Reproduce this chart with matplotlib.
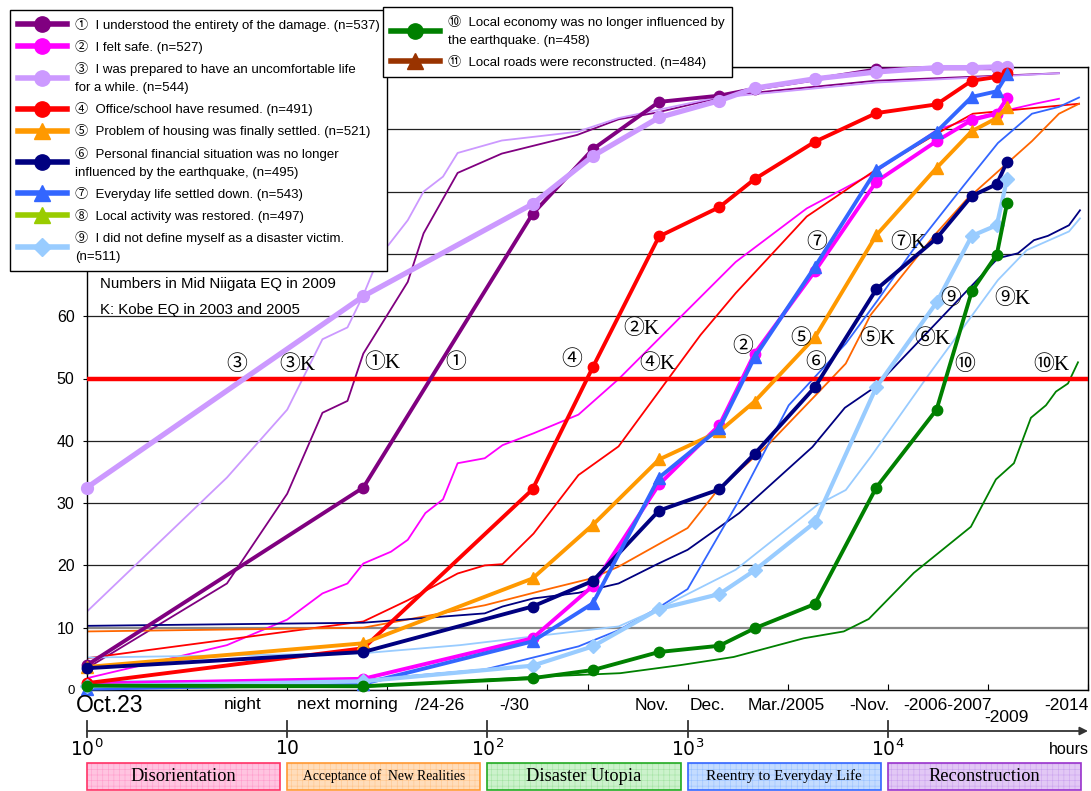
import matplotlib
matplotlib.use('Agg')
import matplotlib.pyplot as plt
from matplotlib.lines import Line2D
from matplotlib.patches import Rectangle
from matplotlib.transforms import blended_transform_factory

W, H = 1091, 791

# hours after the main shock (Oct.23 2004) for every Mid Niigata survey point
niigata_hours = [1, 24, 168, 336, 720, 1440, 2160, 4320, 8760, 17520, 26280, 35040, 39400]

# cumulative % of respondents, Mid Niigata EQ (survey of 2009)
n1_damage = [4.0, 32.5, 76.4, 86.8, 94.4, 95.4, 96.5, 98.0, 99.6, 99.8, 99.8, 99.8, 99.8]
n2_safe = [1.0, 1.8, 8.3, 16.7, 33.0, 42.5, 54.0, 67.2, 81.6, 88.1, 91.5, 92.5, 95.0]
n3_prepared = [32.5, 63.2, 78.0, 85.7, 91.9, 94.6, 96.6, 98.1, 99.2, 99.9, 99.9, 100.0, 100.0]
n4_office = [1.1, 6.7, 32.2, 51.8, 72.8, 77.5, 82.0, 88.0, 92.6, 94.0, 97.8, 98.4, 99.0]
n5_housing = [3.7, 7.5, 17.9, 26.5, 37.0, 41.5, 46.3, 56.6, 73.0, 83.8, 89.7, 91.8, 93.6]
n6_finance = [3.5, 6.1, 13.4, 17.5, 28.8, 32.2, 37.9, 48.6, 64.3, 72.5, 79.3, 81.2, 84.8]
n7_everyday = [0.2, 1.0, 7.8, 13.9, 34.1, 42.0, 53.4, 67.9, 83.5, 89.6, 95.2, 96.1, 98.8]
n9_victim = [0.6, 1.4, 3.9, 7.0, 13.0, 15.4, 19.2, 26.9, 48.6, 62.2, 72.9, 74.6, 82.0]
n10_economy = [0.7, 0.6, 1.9, 3.2, 6.1, 7.1, 9.9, 13.8, 32.5, 45.0, 64.0, 69.9, 78.1]

# Kobe EQ (surveys of 2003 and 2005), hours and cumulative %
k1_hours = [1, 5, 10, 15, 20, 24, 40, 48, 71, 118, 281, 452, 705, 1641, 8710, 71610]
k1_damage = [3.5, 17.1, 31.5, 44.5, 46.4, 54.0, 65.5, 73.3, 83.0, 86.1, 89.1, 91.6, 92.7, 95.5, 97.8, 99.0]

k2_hours = [1, 5, 10, 15, 20, 24, 33, 40, 49, 60, 71, 97, 119, 170, 285, 452, 944, 1738,
            3936, 8710, 17580, 26610, 54330, 71610]
k2_safe = [1.9, 7.2, 11.3, 15.5, 17.1, 20.3, 22.2, 24.1, 28.4, 30.6, 36.4, 37.2, 39.3, 41.2,
           44.2, 49.9, 60.2, 68.7, 77.3, 83.2, 89.9, 91.8, 94.1, 94.9]

k3_hours = [1, 5, 10, 15, 20, 24, 30, 32, 40, 48, 60, 71, 118, 281, 452, 705, 1349, 8710, 71610]
k3_prepared = [12.6, 34.1, 45.0, 56.3, 58.2, 63.4, 70.9, 71.4, 75.4, 80.0, 82.4, 86.2, 88.2,
               89.6, 91.8, 93.1, 95.0, 97.5, 99.0]

k4_hours = [1, 24, 40, 71, 97, 119, 170, 285, 452, 1161, 1738, 3936, 8710, 17580, 26610, 90160]
k4_office = [5.1, 11.0, 14.4, 18.7, 20.0, 20.2, 25.1, 34.5, 39.1, 57.0, 63.7, 76.0, 83.5, 89.3,
             92.5, 94.1]

k5_hours = [1, 24, 97, 207, 330, 452, 1000, 1413, 2512, 4446, 6166, 8204, 17100, 24690, 52480,
            71610, 90160]
k5_housing = [9.4, 10.0, 13.6, 16.3, 17.9, 19.8, 26.0, 32.1, 39.3, 47.6, 52.4, 60.2, 73.0, 78.7,
              88.1, 92.5, 94.1]

k6_hours = [1, 24, 97, 119, 170, 285, 452, 705, 1000, 1811, 4200, 6100, 8700, 35480, 44670,
            53700, 63100, 80350, 91200]
k6_finance = [10.3, 10.8, 12.3, 13.4, 14.7, 15.6, 17.1, 20.2, 22.5, 28.4, 39.0, 45.3, 48.7, 69.3,
              70.1, 72.2, 72.9, 74.6, 77.0]

k7_hours = [1, 24, 97, 285, 452, 705, 1000, 1811, 3199, 6166, 8913, 13335, 23990, 35480, 52480,
            71610, 90160]
k7_everyday = [1.3, 1.6, 3.3, 7.0, 9.6, 13.1, 16.2, 30.5, 45.7, 55.6, 62.6, 70.6, 81.0, 87.8,
               92.5, 93.6, 95.1]

k9_hours = [1, 24, 73, 170, 452, 723, 1738, 4446, 6166, 8204, 15760, 35480, 49430, 80350, 91200]
k9_victim = [5.2, 5.9, 7.2, 8.6, 10.2, 13.1, 19.3, 29.7, 32.1, 37.4, 50.3, 65.8, 70.6, 73.6, 75.7]

k10_hours = [1, 24, 170, 461, 923, 1698, 3802, 6026, 8035, 13490, 26000, 34670, 42660, 51880,
             61660, 69180, 79430, 89130]
k10_economy = [0.3, 0.5, 2.1, 2.7, 4.0, 5.3, 8.3, 9.4, 11.4, 18.8, 26.2, 33.8, 36.4, 43.7, 45.7,
               47.9, 49.2, 52.6]

legend_labels = [
    '①  I understood the entirety of the damage. (n=537)',
    '②  I felt safe. (n=527)',
    '③  I was prepared to have an uncomfortable life\nfor a while. (n=544)',
    '④  Office/school have resumed. (n=491)',
    '⑤  Problem of housing was finally settled. (n=521)',
    '⑥  Personal financial situation was no longer\ninfluenced by the earthquake, (n=495)',
    '⑦  Everyday life settled down. (n=543)',
    '⑧  Local activity was restored. (n=497)',
    '⑨  I did not define myself as a disaster victim.\n(n=511)',
    '⑩  Local economy was no longer influenced by\nthe earthquake. (n=458)',
    '⑪  Local roads were reconstructed. (n=484)',
]
legend_colors = ['#800080', '#FF00FF', '#CC99FF', '#FF0000', '#FF9900', '#000080',
                 '#3366FF', '#99CC00', '#99CCFF', '#008000', '#993300']
legend_markers = ['o', 'o', 'o', 'o', '^', 'o', '^', '^', 'D', 'o', '^']

# circled labels next to the curves where they cross 50 %
note_text = ['③', '③K', '①K', '①', '④', '②K', '④K', '②', '⑤', '⑥', '⑤K', '⑥K',
             '⑩', '⑩K', '⑦', '⑦K', '⑨', '⑨K']
note_hours = [5.6, 11.2, 30, 69.5, 265, 587, 705, 1877, 3673, 4365, 8883, 16730,
              24270, 65830, 4395, 12660, 20590, 41780]
note_level = [52.2, 52.2, 52.4, 52.4, 52.9, 58.0, 52.3, 55.0, 56.3, 52.5, 56.3, 56.3,
              52.2, 52.2, 71.7, 71.7, 62.7, 62.7]

period_labels = ['night', 'next morning', '/24-26', '-/30', 'Nov.', 'Dec.', 'Mar./2005',
                 '-Nov.', '-2006-2007', '-2014']
period_hours = [6.0, 20, 58, 136, 661, 1259, 3126, 8128, 19950, 77625]

decade_labels = ['$10^0$', '$10$', '$10^2$', '$10^3$', '$10^4$']
decade_hours = [1, 10, 100, 1000, 10000]

phase_names = ['Disorientation', 'Acceptance of  New Realities', 'Disaster Utopia',
               'Reentry to Everyday Life', 'Reconstruction']
phase_start = [1, 10, 100, 1000, 10000]
phase_fill = ['#FFC4E0', '#FFDDBB', '#CCF2CC', '#C4DCFF', '#E2C8F5']
phase_hatch = ['#FF9CCB', '#FFC48A', '#A3E3A3', '#99C2FF', '#CBA3EE']
phase_edge = ['#FF3366', '#FF9933', '#22AA22', '#3366FF', '#9933CC']
phase_size = [13.2, 9.8, 13.2, 11, 13.2]

plt.rcParams['font.family'] = ['Liberation Sans', 'Noto Sans CJK JP', 'DejaVu Sans']
plt.rcParams['hatch.linewidth'] = 0.4
serif_cjk = ['Liberation Serif', 'Noto Sans CJK JP', 'DejaVu Serif']


def fig_rect(x0, y0, x1, y1):
    return [x0 / W, 1 - y1 / H, (x1 - x0) / W, (y1 - y0) / H]


fig = plt.figure(figsize=(W / 100, H / 100), dpi=100)
ax = fig.add_axes(fig_rect(87, 67, 1088, 690))
ax.set_xscale('log')
ax.set_xlim(1, 1e5)
ax.set_ylim(0, 100)

# Kobe curves: thin lines without markers
kobe = [
    (k1_hours, k1_damage, '#800080'),
    (k3_hours, k3_prepared, '#CC99FF'),
    (k2_hours, k2_safe, '#FF00FF'),
    (k4_hours, k4_office, '#FF0000'),
    (k5_hours, k5_housing, '#FF6600'),
    (k6_hours, k6_finance, '#000080'),
    (k7_hours, k7_everyday, '#3366FF'),
    (k9_hours, k9_victim, '#99CCFF'),
    (k10_hours, k10_economy, '#008000'),
]
for h, v, c in kobe:
    ax.plot(h, v, color=c, lw=1.3, zorder=2)

ax.axhline(50, color='#FF0000', lw=3.2, zorder=3)

# Mid Niigata curves: thick lines with markers
niigata = [
    (n1_damage, 0, 2.8, 7.5),
    (n2_safe, 1, 2.8, 7.5),
    (n3_prepared, 2, 3.8, 8.5),
    (n4_office, 3, 2.8, 7.5),
    (n5_housing, 4, 2.8, 8.5),
    (n6_finance, 5, 2.8, 7.5),
    (n7_everyday, 6, 2.8, 8.5),
    (n9_victim, 8, 3.0, 7.0),
    (n10_economy, 9, 2.8, 7.5),
]
for vals, i, lw, ms in niigata:
    ax.plot(niigata_hours, vals, color=legend_colors[i], marker=legend_markers[i],
            lw=lw, ms=ms, markeredgecolor=legend_colors[i], zorder=4 + i * 0.1,
            clip_on=False)

for t, x, y in zip(note_text, note_hours, note_level):
    ax.text(x, y, t, ha='center', va='center', fontsize=15, family=serif_cjk, zorder=6)

ax.text(0.013, 0.652, 'Numbers in Mid Niigata EQ in 2009', transform=ax.transAxes,
        fontsize=10.8, va='center', zorder=6)
ax.text(0.013, 0.61, 'K: Kobe EQ in 2003 and 2005', transform=ax.transAxes,
        fontsize=10.8, va='center', zorder=6)

ax.set_xticks([10 ** (k / 2) for k in range(11)])
ax.xaxis.set_minor_locator(plt.NullLocator())
ax.tick_params(axis='x', direction='in', length=4, labelbottom=False)
ax.set_yticks(range(0, 101, 10))
ax.tick_params(axis='y', direction='out', length=3, pad=6, labelsize=11.5)
ylabels = ax.get_yticklabels()
ylabels[0].set_fontsize(9.5)
for lab in ylabels[7:]:
    lab.set_visible(False)  # these sit under the legend box
ax.yaxis.grid(True, color='#222222', lw=0.9)
ax.get_ygridlines()[1].set_color('#888888')
ax.get_ygridlines()[1].set_linewidth(1.6)
ax.set_axisbelow(True)
for sp in ax.spines.values():
    sp.set_linewidth(1.0)

handles = [Line2D([], [], color=c, lw=4, marker=m, ms=11 if m != 'D' else 9,
                  markeredgecolor=c) for c, m in zip(legend_colors, legend_markers)]


def add_legend(idx, anchor):
    leg = ax.legend([handles[i] for i in idx], [legend_labels[i] for i in idx],
                    loc='upper left', bbox_to_anchor=anchor, bbox_transform=fig.transFigure,
                    fontsize=9.5, fancybox=False, framealpha=1, edgecolor='black',
                    handlelength=3.7, handletextpad=0.6, borderpad=0.6, borderaxespad=0,
                    labelspacing=0.62)
    leg.get_frame().set_linewidth(1.0)
    for t in leg.get_texts():
        t.set_linespacing(1.65)
    leg.set_zorder(20)
    return leg


leg1 = add_legend(range(9), (10 / W, 1 - 10 / H))
ax.add_artist(leg1)
add_legend([9, 10], (383 / W, 1 - 7 / H))

# time scale, decade arrow and phase boxes under the chart
axb = fig.add_axes(fig_rect(87, 691, 1088, 791))
axb.set_xscale('log')
axb.set_xlim(1, 1e5)
axb.set_ylim(0, 1)
axb.axis('off')
tb = blended_transform_factory(axb.transData, axb.transAxes)

axb.text(1.29, 0.86, 'Oct.23', ha='center', va='center', fontsize=16.5, transform=tb)
for t, x in zip(period_labels, period_hours):
    axb.text(x, 0.86, t, ha='center', va='center', fontsize=12.5, transform=tb)
axb.text(39355, 0.73, '-2009', ha='center', va='center', fontsize=12.5, transform=tb)

axb.annotate('', xy=(1e5, 0.60), xytext=(1, 0.60), xycoords=tb, textcoords=tb,
             arrowprops=dict(arrowstyle='-|>', color='#333333', lw=1.3, mutation_scale=12,
                             shrinkA=0, shrinkB=0), annotation_clip=False)
for t, x in zip(decade_labels, decade_hours):
    axb.plot([x, x], [0.54, 0.70], color='#333333', lw=1.3, transform=tb, clip_on=False)
    axb.text(x, 0.42, t, ha='center', va='center', fontsize=13.5, transform=tb)
axb.text(80350, 0.41, 'hours', ha='center', va='center', fontsize=11.5, transform=tb)

for name, x0, fc, hc, ec, fs in zip(phase_names, phase_start, phase_fill, phase_hatch,
                                    phase_edge, phase_size):
    x1 = x0 * 10 ** 0.965
    axb.add_patch(Rectangle((x0, 0.01), x1 - x0, 0.27, transform=tb, facecolor=fc,
                            edgecolor=hc, hatch='+++', lw=0, clip_on=False))
    axb.add_patch(Rectangle((x0, 0.01), x1 - x0, 0.27, transform=tb, facecolor='none',
                            edgecolor=ec, lw=1.2, clip_on=False))
    axb.text((x0 * x1) ** 0.5, 0.145, name, ha='center', va='center', fontsize=fs,
             family=['Liberation Serif'], transform=tb)

fig.savefig('out.png', dpi=100)
